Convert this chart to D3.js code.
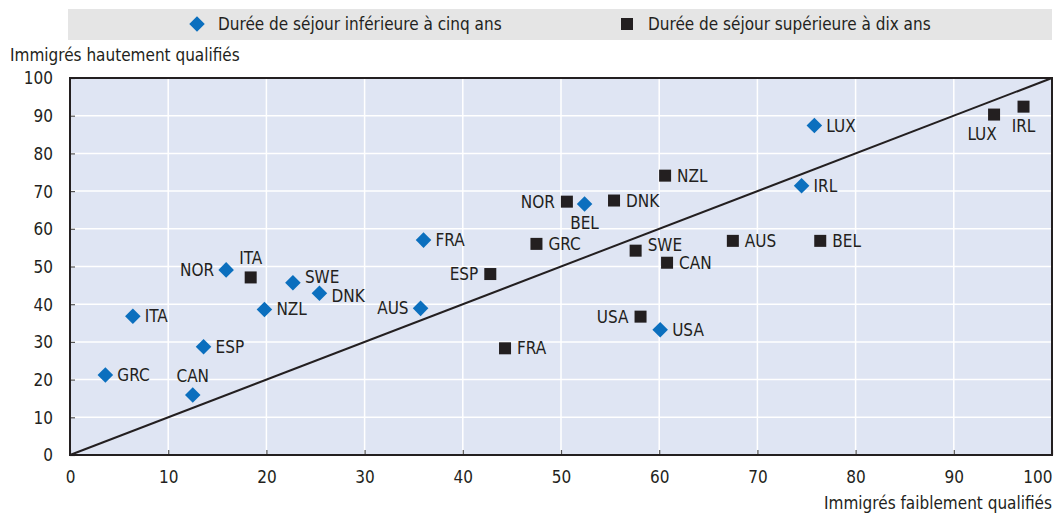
<!DOCTYPE html>
<html>
<head>
<meta charset="utf-8">
<script src="https://cdn.jsdelivr.net/npm/d3@7"></script>
<style>
  body { margin: 0; background: #fff; }
  svg text { font-family: "DejaVu Sans Condensed", "Liberation Sans Narrow", sans-serif; font-stretch: condensed; fill: #231f20; }
</style>
</head>
<body>
<div id="chart"></div>
<script>
// Series names
var seriesNames = ["Durée de séjour inférieure à cinq ans", "Durée de séjour supérieure à dix ans"];

// Short stay (< 5 years): country, low-skilled x, high-skilled y
var shortCountries = ["GRC", "ITA", "CAN", "ESP", "NOR", "NZL", "SWE", "DNK", "AUS", "FRA", "BEL", "USA", "IRL", "LUX"];
var shortLow  = [3.6, 6.4, 12.5, 13.6, 15.9, 19.8, 22.7, 25.4, 35.7, 36.0, 52.4, 60.1, 74.5, 75.8];
var shortHigh = [21.2, 36.8, 15.9, 28.7, 49.1, 38.6, 45.7, 42.9, 38.9, 57.0, 66.6, 33.2, 71.4, 87.4];

// Long stay (> 10 years)
var longCountries = ["ITA", "ESP", "FRA", "GRC", "NOR", "DNK", "SWE", "USA", "NZL", "CAN", "AUS", "BEL", "LUX", "IRL"];
var longLow  = [18.4, 42.8, 44.3, 47.5, 50.6, 55.4, 57.6, 58.1, 60.6, 60.8, 67.5, 76.4, 94.1, 97.1];
var longHigh = [47.1, 48.0, 28.3, 56.0, 67.2, 67.5, 54.2, 36.7, 74.1, 51.0, 56.8, 56.8, 90.3, 92.4];

// Axis ticks
var tickValues = [0, 10, 20, 30, 40, 50, 60, 70, 80, 90, 100];

// label placement (where the country code sits relative to its marker)
var labelSide = {
  "s-NOR": "left", "s-CAN": "above", "s-AUS": "left", "s-BEL": "below",
  "s-SWE": "rightup", "s-DNK": "rightdown",
  "l-ITA": "above", "l-ESP": "left", "l-NOR": "left", "l-USA": "left",
  "l-SWE": "rightup", "l-LUX": "belowleft", "l-IRL": "below"
};

var width = 1060, height = 513;
var margin = {top: 78, right: 8, bottom: 58, left: 70};
var innerW = width - margin.left - margin.right;
var innerH = height - margin.top - margin.bottom;
var fontSize = "17px";

var svg = d3.select("#chart").append("svg")
    .attr("width", width)
    .attr("height", height);

var x = d3.scaleLinear().domain([0, 100]).range([0, innerW]);
var y = d3.scaleLinear().domain([0, 100]).range([innerH, 0]);

// Legend box
svg.append("rect")
    .attr("x", 68).attr("y", 9)
    .attr("width", 984).attr("height", 31)
    .style("fill", "#e5e5e5");

svg.append("rect")
    .attr("x", -5.5).attr("y", -5.5).attr("width", 11).attr("height", 11)
    .attr("transform", "translate(197,24) rotate(45)")
    .style("fill", "#0b6fbe");
svg.append("text")
    .attr("x", 218).attr("y", 30)
    .style("font-size", fontSize)
    .text(seriesNames[0]);

svg.append("rect")
    .attr("x", 621).attr("y", 18).attr("width", 12).attr("height", 12)
    .style("fill", "#231f20");
svg.append("text")
    .attr("x", 648).attr("y", 30)
    .style("font-size", fontSize)
    .text(seriesNames[1]);

var g = svg.append("g")
    .attr("transform", "translate(" + margin.left + "," + margin.top + ")");

// Plot background
g.append("rect")
    .attr("width", innerW).attr("height", innerH)
    .style("fill", "#dfe5f3");

// Grid lines
g.selectAll(".vgrid").data(tickValues.slice(1, -1)).enter().append("line")
    .attr("x1", function(d) { return x(d); }).attr("x2", function(d) { return x(d); })
    .attr("y1", 0).attr("y2", innerH)
    .style("stroke", "#fff").style("stroke-width", 1.5);
g.selectAll(".hgrid").data(tickValues.slice(1, -1)).enter().append("line")
    .attr("y1", function(d) { return y(d); }).attr("y2", function(d) { return y(d); })
    .attr("x1", 0).attr("x2", innerW)
    .style("stroke", "#fff").style("stroke-width", 1.5);

// Axes (ticks point inside the plot)
var xAxis = d3.axisBottom(x).tickValues(tickValues).tickSize(-5).tickPadding(16);
var yAxis = d3.axisLeft(y).tickValues(tickValues).tickSize(-5).tickPadding(17);

var gx = g.append("g")
    .attr("transform", "translate(0," + innerH + ")")
    .call(xAxis);
var gy = g.append("g").call(yAxis);

[gx, gy].forEach(function(a) {
    a.select(".domain").remove();
    a.selectAll(".tick line").style("stroke", "#555").style("stroke-width", 1.2);
    a.selectAll(".tick text").style("font-size", fontSize).style("fill", "#231f20")
        .style("font-family", null);
});
gy.selectAll(".tick text").attr("dy", "0.35em");
// last x label sits flush with the right edge
gx.selectAll(".tick text").filter(function(d) { return d === 100; })
    .attr("text-anchor", "end");

// Frame
g.append("rect")
    .attr("width", innerW).attr("height", innerH)
    .style("fill", "none").style("stroke", "#231f20").style("stroke-width", 2);

// Diagonal (equal share line)
g.append("line")
    .attr("x1", x(0)).attr("y1", y(0))
    .attr("x2", x(100)).attr("y2", y(100))
    .style("stroke", "#231f20").style("stroke-width", 2);

// Axis titles
svg.append("text")
    .attr("x", 10).attr("y", 61)
    .style("font-size", fontSize)
    .text("Immigrés hautement qualifiés");
svg.append("text")
    .attr("x", 1052).attr("y", 509)
    .attr("text-anchor", "end")
    .style("font-size", fontSize)
    .text("Immigrés faiblement qualifiés");

function buildPoints(prefix, names, lows, highs) {
    return names.map(function(c, i) {
        return {key: prefix + "-" + c, name: c, low: lows[i], high: highs[i]};
    });
}
var shortPts = buildPoints("s", shortCountries, shortLow, shortHigh);
var longPts = buildPoints("l", longCountries, longLow, longHigh);

// Markers
g.selectAll(".sq").data(longPts).enter().append("rect")
    .attr("x", function(d) { return x(d.low) - 6; })
    .attr("y", function(d) { return y(d.high) - 6; })
    .attr("width", 12).attr("height", 12)
    .style("fill", "#231f20");

g.selectAll(".dm").data(shortPts).enter().append("rect")
    .attr("x", -5.5).attr("y", -5.5).attr("width", 11).attr("height", 11)
    .attr("transform", function(d) { return "translate(" + x(d.low) + "," + y(d.high) + ") rotate(45)"; })
    .style("fill", "#0b6fbe");

// Country labels
function addLabels(pts) {
    g.selectAll(null).data(pts).enter().append("text")
        .style("font-size", fontSize)
        .attr("text-anchor", function(d) {
            var s = labelSide[d.key] || "right";
            if (s === "left") return "end";
            if (s === "above" || s === "below" || s === "belowleft") return "middle";
            return "start";
        })
        .attr("x", function(d) {
            var s = labelSide[d.key] || "right";
            var px = x(d.low);
            if (s === "left") return px - 12;
            if (s === "right" || s === "rightup" || s === "rightdown") return px + 12;
            if (s === "belowleft") return px - 12;
            return px;
        })
        .attr("y", function(d) {
            var s = labelSide[d.key] || "right";
            var py = y(d.high);
            if (s === "above") return py - 13;
            if (s === "below" || s === "belowleft") return py + 25;
            if (s === "rightup") return py;
            if (s === "rightdown") return py + 9;
            return py + 6;
        })
        .text(function(d) { return d.name; });
}
addLabels(shortPts);
addLabels(longPts);
</script>
</body>
</html>
